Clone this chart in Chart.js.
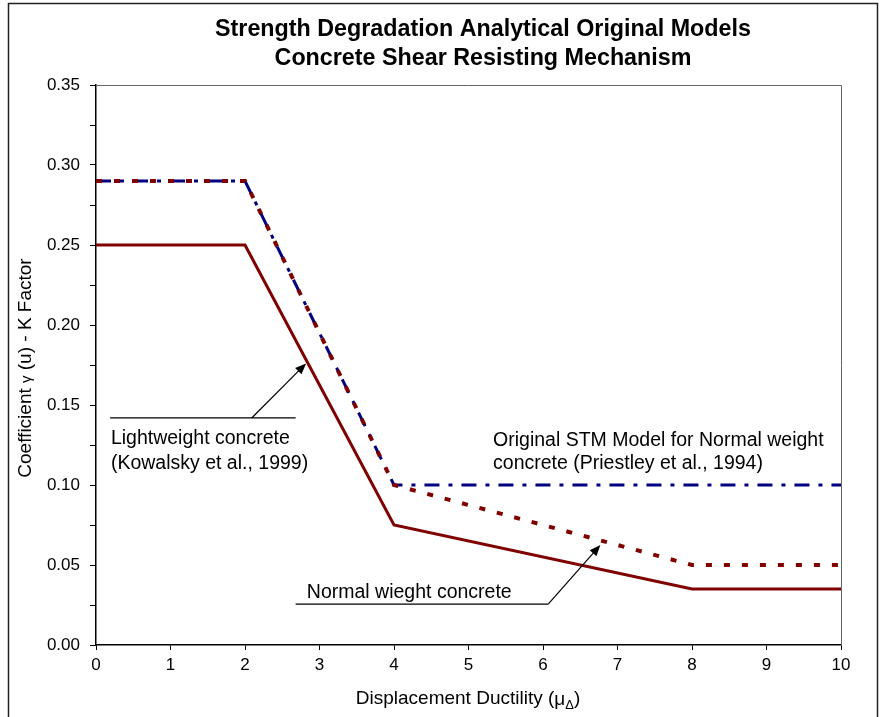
<!DOCTYPE html>
<html>
<head>
<meta charset="utf-8">
<script src="https://cdn.jsdelivr.net/npm/chart.js@4.4.0/dist/chart.umd.min.js"></script>
<style>
body { margin: 0; background: #fff; }
</style>
</head>
<body>
<canvas id="myChart" width="880" height="717"></canvas>
<script>
// displacement ductility values and K factor for each model
const lightweightDuct = [0, 2, 4, 8, 10];
const lightweightK = [0.25, 0.25, 0.075, 0.035, 0.035];
const normalDuct = [0, 2, 4, 8, 10];
const normalK = [0.29, 0.29, 0.10, 0.05, 0.05];
const stmDuct = [0, 2, 4, 10];
const stmK = [0.29, 0.29, 0.10, 0.10];

const titleLines = ['Strength Degradation Analytical Original Models', 'Concrete Shear Resisting Mechanism'];
const fontName = '"Liberation Sans", Arial, sans-serif';

function toPoints(xs, ys) {
    return xs.map((v, i) => ({ x: v, y: ys[i] }));
}

// draws text made of runs with different fonts, centered on cx
function drawRuns(ctx, runs, cx, cy) {
    let total = 0;
    runs.forEach(r => { ctx.font = r.font; r.w = ctx.measureText(r.t).width; total += r.w; });
    let pos = cx - total / 2;
    ctx.textAlign = 'left';
    ctx.textBaseline = 'middle';
    runs.forEach(r => {
        ctx.font = r.font;
        ctx.fillText(r.t, pos, cy + (r.dy || 0));
        pos += r.w;
    });
}

function drawArrow(ctx, x1, y1, x2, y2) {
    const ang = Math.atan2(y2 - y1, x2 - x1);
    const len = 11, half = 4.5;
    ctx.beginPath();
    ctx.moveTo(x1, y1);
    ctx.lineTo(x2 - Math.cos(ang) * len * 0.8, y2 - Math.sin(ang) * len * 0.8);
    ctx.stroke();
    ctx.beginPath();
    ctx.moveTo(x2, y2);
    ctx.lineTo(x2 - Math.cos(ang) * len + Math.sin(ang) * half, y2 - Math.sin(ang) * len - Math.cos(ang) * half);
    ctx.lineTo(x2 - Math.cos(ang) * len - Math.sin(ang) * half, y2 - Math.sin(ang) * len + Math.cos(ang) * half);
    ctx.closePath();
    ctx.fill();
}

const notesPlugin = {
    id: 'notes',
    afterDraw(chart) {
        const ctx = chart.ctx;
        const xs = chart.scales.x, ys = chart.scales.y, area = chart.chartArea;
        const px = v => xs.getPixelForValue(v);
        const py = v => ys.getPixelForValue(v);
        ctx.save();
        // outer frame
        ctx.strokeStyle = '#222';
        ctx.lineWidth = 1.5;
        ctx.strokeRect(8.5, 3.5, 869, 730);
        // top and right edge of the plot area
        ctx.strokeStyle = '#666';
        ctx.lineWidth = 1;
        ctx.beginPath();
        ctx.moveTo(area.left, Math.round(area.top) + 0.5);
        ctx.lineTo(Math.round(area.right) + 0.5, Math.round(area.top) + 0.5);
        ctx.lineTo(Math.round(area.right) + 0.5, area.bottom);
        ctx.stroke();

        ctx.fillStyle = '#000';
        ctx.strokeStyle = '#000';
        // title
        ctx.font = 'bold 23.3px ' + fontName;
        ctx.textAlign = 'center';
        ctx.textBaseline = 'middle';
        ctx.fillText(titleLines[0], 483, 30);
        ctx.fillText(titleLines[1], 483, 59);

        // x axis title
        drawRuns(ctx, [
            { t: 'Displacement Ductility (', font: '19px ' + fontName },
            { t: 'μ', font: '19px ' + fontName, dy: 1 },
            { t: 'Δ', font: '13px ' + fontName, dy: 6 },
            { t: ')', font: '19px ' + fontName }
        ], 468, 699);

        // y axis title
        ctx.save();
        ctx.translate(26, 368);
        ctx.rotate(-Math.PI / 2);
        drawRuns(ctx, [
            { t: 'Coefficient ', font: '19px ' + fontName },
            { t: 'γ', font: '15px ' + fontName, dy: 1 },
            { t: ' (u) - K Factor', font: '19px ' + fontName }
        ], 0, 0);
        ctx.restore();

        // notes
        ctx.font = '19.5px ' + fontName;
        ctx.textAlign = 'left';
        ctx.textBaseline = 'middle';
        ctx.fillText('Lightweight concrete', px(0.2), py(0.129));
        ctx.fillText('(Kowalsky et al., 1999)', px(0.2), py(0.1135));
        ctx.fillText('Normal wieght concrete', px(2.83), py(0.033));
        ctx.fillText('Original STM Model for Normal weight', px(5.33), py(0.128));
        ctx.fillText('concrete (Priestley et al., 1994)', px(5.33), py(0.1135));

        ctx.lineWidth = 1.2;
        ctx.beginPath();
        ctx.moveTo(px(0.19), py(0.1419));
        ctx.lineTo(px(2.68), py(0.1419));
        ctx.moveTo(px(2.68), py(0.0256));
        ctx.lineTo(px(6.07), py(0.0256));
        ctx.stroke();
        drawArrow(ctx, px(2.09), py(0.1419), px(2.82), py(0.176));
        drawArrow(ctx, px(6.07), py(0.0256), px(6.77), py(0.0625));
        ctx.restore();
    }
};

let ctx = document.querySelector('#myChart').getContext('2d');
let myChart = new Chart(ctx, {
    type: 'scatter',
    data: {
        datasets: [{
            label: 'Normal weight concrete',
            data: toPoints(normalDuct, normalK),
            showLine: true,
            borderColor: '#800000',
            borderWidth: 4,
            borderDash: [6, 12],
            pointRadius: 0,
            order: 1
        }, {
            label: 'Original STM Model',
            data: toPoints(stmDuct, stmK),
            showLine: true,
            borderColor: '#000080',
            borderWidth: 3,
            borderDash: [15, 9, 4, 9],
            pointRadius: 0,
            order: 2
        }, {
            label: 'Lightweight concrete',
            data: toPoints(lightweightDuct, lightweightK),
            showLine: true,
            borderColor: '#800000',
            borderWidth: 3,
            pointRadius: 0,
            order: 3
        }]
    },
    options: {
        responsive: false,
        animation: false,
        layout: { padding: { top: 85, right: 39, left: 0, bottom: 0 } },
        plugins: {
            legend: { display: false },
            tooltip: { enabled: false }
        },
        scales: {
            x: {
                type: 'linear',
                min: 0,
                max: 10,
                afterFit: scale => { scale.height = 72; },
                border: { display: true, color: '#000', width: 1.5 },
                grid: { display: true, drawOnChartArea: false, drawTicks: true, tickLength: 5, color: '#000' },
                ticks: { stepSize: 1, color: '#000', padding: 5, font: { family: fontName, size: 17 } }
            },
            y: {
                min: 0,
                max: 0.35,
                afterFit: scale => { scale.width = 96; },
                border: { display: true, color: '#000', width: 1.5 },
                grid: { display: true, drawOnChartArea: false, drawTicks: true, tickLength: 6, color: '#000' },
                ticks: {
                    stepSize: 0.025,
                    color: '#000',
                    padding: 10,
                    font: { family: fontName, size: 17 },
                    callback: v => (Math.round(v * 1000) % 50 === 0 ? v.toFixed(2) : '')
                }
            }
        }
    },
    plugins: [notesPlugin]
});
</script>
</body>
</html>
